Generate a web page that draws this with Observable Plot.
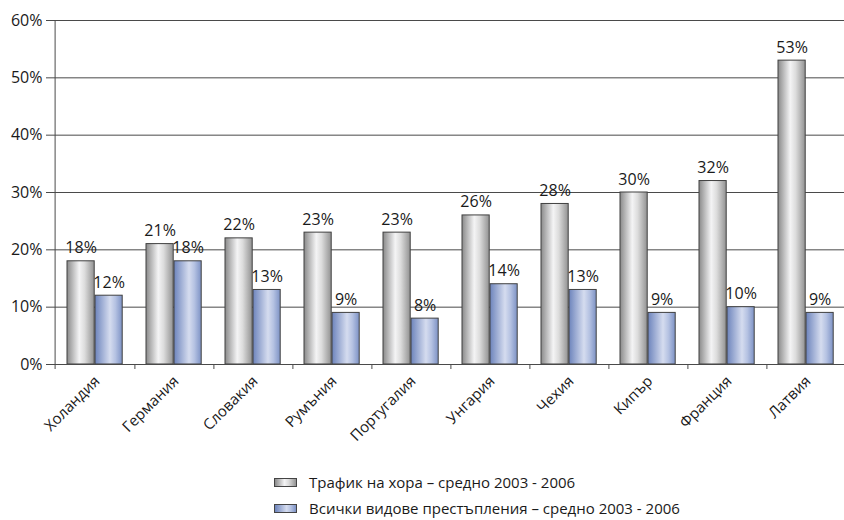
<!DOCTYPE html>
<html>
<head>
<meta charset="utf-8">
<script src="https://cdn.jsdelivr.net/npm/d3@7"></script>
<script src="https://cdn.jsdelivr.net/npm/@observablehq/plot@0.6"></script>
<style>
  html, body { margin: 0; padding: 0; background: #fff; overflow: hidden; }
  #wrap { position: relative; width: 844px; height: 520px; overflow: hidden; font-family: "Open Sans", sans-serif; }
  #chart { position: absolute; left: 0; top: 0; }
  #legend { position: absolute; left: 274px; top: 469px; font-size: 15px; color: #1a1a1a; }
  .row { display: flex; align-items: center; height: 26px; }
  .sw { width: 21px; height: 7px; border: 1px solid #444; margin-right: 12px; }
</style>
</head>
<body>
<div id="wrap">
  <div id="chart"></div>
  <div id="legend"></div>
</div>
<script>
const countries = ["Холандия", "Германия", "Словакия", "Румъния", "Португалия", "Унгария", "Чехия", "Кипър", "Франция", "Латвия"];
const trafficking = [18, 21, 22, 23, 23, 26, 28, 30, 32, 53];
const allCrimes = [12, 18, 13, 9, 8, 14, 13, 9, 10, 9];
const seriesNames = ["Трафик на хора – средно 2003 - 2006", "Всички видове престъпления – средно 2003 - 2006"];
const yTicks = [0, 10, 20, 30, 40, 50, 60];

const grayFill = "url(#gGray)";
const blueFill = "url(#gBlue)";

const dataA = countries.map((c, i) => ({country: c, value: trafficking[i]}));
const dataB = countries.map((c, i) => ({country: c, value: allCrimes[i]}));

const bw = 798 / 10;
const font = "Open Sans, sans-serif";
const axisColor = "#4a4a4a";
const tickLen = 5 * 60 / 344;

const chart = Plot.plot({
  width: 844,
  height: 460,
  marginLeft: 51,
  marginRight: 0,
  marginTop: 20,
  marginBottom: 96,
  style: {fontFamily: font, fontSize: "15px", color: "#1a1a1a", background: "white"},
  x: {domain: countries, padding: 0, range: [51, 849], axis: null},
  y: {domain: [0, 60], axis: null},
  marks: [
    Plot.ruleY(yTicks.filter(d => d > 0), {stroke: axisColor, strokeWidth: 1}),
    Plot.barY(dataA, {x: "country", y: "value", fill: grayFill, stroke: "#404040", strokeWidth: 1, insetLeft: 12, insetRight: bw - 40}),
    Plot.barY(dataB, {x: "country", y: "value", fill: blueFill, stroke: "#404040", strokeWidth: 1, insetLeft: 40, insetRight: bw - 68}),
    Plot.text(dataA, {x: "country", y: "value", text: d => d.value + "%", dx: 26 - bw / 2, dy: -8, lineAnchor: "bottom", fontSize: 16, fill: "#1a1a1a"}),
    Plot.text(dataB, {x: "country", y: "value", text: d => d.value + "%", dx: 54 - bw / 2, dy: -8, lineAnchor: "bottom", fontSize: 16, fill: "#1a1a1a"}),
    Plot.ruleX([countries[0]], {x: d => d, dx: -bw / 2, y1: 0, y2: 60, stroke: axisColor}),
    Plot.ruleY([0], {stroke: axisColor}),
    Plot.axisY({ticks: yTicks, tickFormat: d => d + "%", tickSize: 5, tickPadding: 4, fontSize: 16, stroke: axisColor, label: null}),
    Plot.ruleX(countries, {x: d => d, dx: bw / 2, y1: 0, y2: -tickLen, stroke: axisColor}),
    Plot.ruleX([countries[0]], {x: d => d, dx: -bw / 2, y1: 0, y2: -tickLen, stroke: axisColor}),
    Plot.text(countries, {x: d => d, y: 0, dy: 10, dx: -2, rotate: -45, textAnchor: "end", lineAnchor: "top", fontSize: 15, fill: "#1a1a1a"})
  ]
});

// gradients
const ns = "http://www.w3.org/2000/svg";
const defs = document.createElementNS(ns, "defs");
defs.innerHTML = `
  <linearGradient id="gGray" x1="0" x2="1" y1="0" y2="0">
    <stop offset="0" stop-color="#8a8a8a"/>
    <stop offset="0.45" stop-color="#f4f4f5"/>
    <stop offset="0.65" stop-color="#dcdcdc"/>
    <stop offset="1" stop-color="#929292"/>
  </linearGradient>
  <linearGradient id="gBlue" x1="0" x2="1" y1="0" y2="0">
    <stop offset="0" stop-color="#6d84bc"/>
    <stop offset="0.55" stop-color="#d5dcef"/>
    <stop offset="0.75" stop-color="#b5c2e2"/>
    <stop offset="1" stop-color="#7d92c5"/>
  </linearGradient>`;
chart.insertBefore(defs, chart.firstChild);
document.getElementById("chart").appendChild(chart);

const legend = document.getElementById("legend");
const swFills = [
  "linear-gradient(to right, #8a8a8a, #f4f4f5 45%, #dcdcdc 65%, #929292)",
  "linear-gradient(to right, #6d84bc, #d5dcef 55%, #b5c2e2 75%, #7d92c5)"
];
seriesNames.forEach((name, i) => {
  const row = document.createElement("div");
  row.className = "row";
  const sw = document.createElement("div");
  sw.className = "sw";
  sw.style.background = swFills[i];
  const t = document.createElement("span");
  t.textContent = name;
  row.appendChild(sw);
  row.appendChild(t);
  legend.appendChild(row);
});
</script>
</body>
</html>
